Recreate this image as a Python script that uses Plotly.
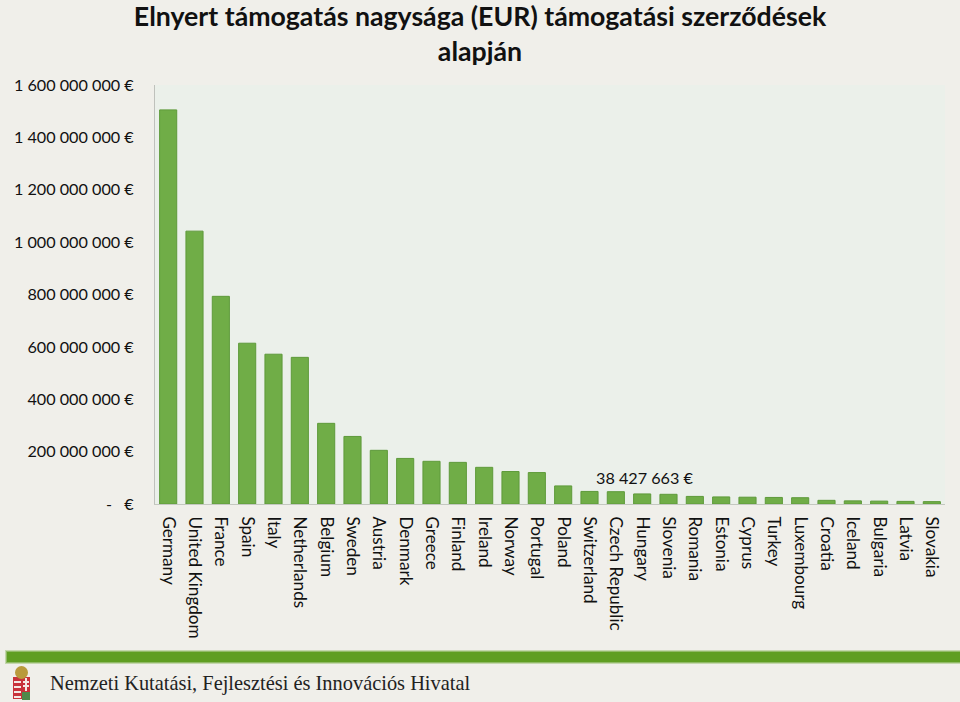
import plotly.graph_objects as go

countries = ["Germany","United Kingdom","France","Spain","Italy","Netherlands","Belgium","Sweden","Austria","Denmark","Greece","Finland","Ireland","Norway","Portugal","Poland","Switzerland","Czech Republic","Hungary","Slovenia","Romania","Estonia","Cyprus","Turkey","Luxembourg","Croatia","Iceland","Bulgaria","Latvia","Slovakia"]
values = [1505e6,1042e6,793e6,614e6,572e6,560e6,308e6,258e6,205e6,174e6,163e6,159e6,140e6,124e6,120e6,69e6,48e6,47e6,38427663,37e6,29e6,27e6,26e6,25e6,24e6,14e6,12e6,11e6,10e6,9e6]
y_ticks = [0,200e6,400e6,600e6,800e6,1000e6,1200e6,1400e6,1600e6]
y_labels = ["-   €","200 000 000 €","400 000 000 €","600 000 000 €","800 000 000 €","1 000 000 000 €","1 200 000 000 €","1 400 000 000 €","1 600 000 000 €"]
title = "Elnyert támogatás nagysága (EUR) támogatási szerződések<br>alapján"
footer = "Nemzeti Kutatási, Fejlesztési és Innovációs Hivatal"
callout = "38 427 663 €"

W, H = 960, 702
L, R, T, B = 155, 945, 85, 504
def px(x): return (x - L) / (R - L)
def py(y): return (B - y) / (B - T)

def rect(x0, x1, y0, y1, color, **kw):
    return dict(type="rect", xref="paper", yref="paper", x0=px(x0), x1=px(x1), y0=py(y0), y1=py(y1),
                fillcolor=color, line_width=0, **kw)

fig = go.Figure(go.Bar(
    x=countries, y=values, width=0.65,
    marker=dict(color="#70AD47", line=dict(color="#5E9A3A", width=1)),
))
shapes = [
    rect(5, 960, 650, 664, "#5F9E22", opacity=0.3, layer="below"),
    rect(6, 960, 651, 663, "#5F9E22", opacity=0.5, layer="below"),
    rect(7, 960, 652, 662, "#5F9E22", layer="below"),
    rect(13, 30, 677, 699, "#C8323A"),
    rect(14, 21, 681, 683, "#F4E9E4"),
    rect(14, 21, 686, 688, "#F4E9E4"),
    rect(14, 21, 691, 693, "#F4E9E4"),
    rect(14, 21, 696, 698, "#F4E9E4"),
    rect(25, 27, 678, 691, "#F4E9E4"),
    rect(23, 29, 681, 683, "#F4E9E4"),
    rect(23, 29, 685, 687, "#F4E9E4"),
    rect(22, 30, 692, 700, "#4E8A4A"),
    dict(type="circle", xref="paper", yref="paper", x0=px(15), x1=px(28), y0=py(666), y1=py(679),
         fillcolor="#B99A3C", line_width=0),
]
annotations = [
    dict(text=callout, x="Hungary", y=100e6, xref="x", yref="y", showarrow=False,
         font=dict(size=16.2, color="#111111"), xshift=3),
    dict(text=footer, xref="paper", yref="paper", x=px(50), y=py(683), xanchor="left", yanchor="middle",
         showarrow=False, xshift=-2, font=dict(family="Liberation Serif", size=20.4, color="#222222")),
]
fig.update_layout(
    width=W, height=H, autosize=False, showlegend=False,
    paper_bgcolor="#F0EFEA", plot_bgcolor="#EBF0EA",
    margin=dict(l=L, r=W - R, t=T, b=H - B),
    font=dict(family="Lato, Carlito, sans-serif", size=16, color="#111111"),
    title=dict(text=title, x=0.5, xref="container", xanchor="center", y=0.963, yref="container", yanchor="top",
               font=dict(size=26.7, color="#111111", weight="bold")),
    shapes=shapes, annotations=annotations,
    xaxis=dict(type="category", tickangle=90, ticks="", showline=True, linecolor="#C4C8C0", linewidth=1,
               showgrid=False, tickfont=dict(size=17.1), ticklabelstandoff=8),
    yaxis=dict(range=[0, 1600e6], tickvals=y_ticks, ticktext=y_labels, ticks="", showline=True,
               linecolor="#BFC1BC", linewidth=1, showgrid=False, zeroline=False,
               tickfont=dict(size=16.2), ticklabelstandoff=17),
    bargap=0.32,
)
fig.write_html("out.html", config={"displayModeBar": False},
               post_script="document.body.style.margin='0';document.body.style.background='#F0EFEA';")
